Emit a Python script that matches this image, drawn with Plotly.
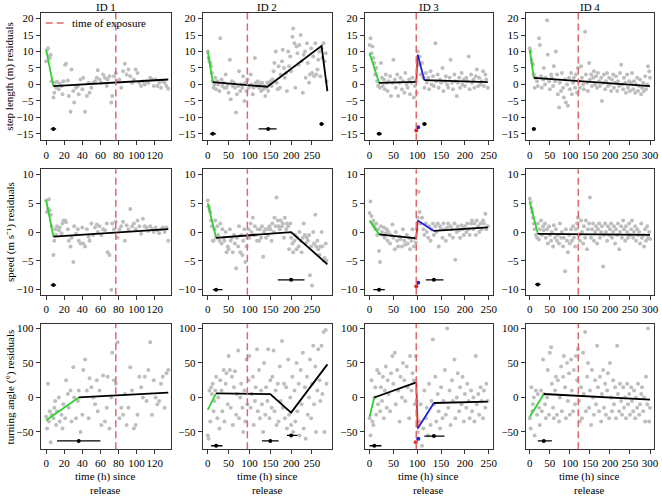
import plotly.graph_objects as go

# ---------------- data ----------------
ID_LABELS = ["ID 1", "ID 2", "ID 3", "ID 4"]
EXPOSURE = [77, 95, 98, 121]

TIME_ID1 = [0,1,2,3,4,5,6,8,9,10, 11,12,14,15,17,18,19,21,22,24, 25,27,28,30,31,33,35,36,38,40,
            41,43,45,47,48,50,52,54,56,57, 59,61,63,65,67,68,70,72,73,75, 77,79,81,83,85,87,89,91,93,95,
            97,99,101,103,105,107,109,111,113,115, 117,119,121,123,125,127,129,131,133,135]
STEP_ID1 = [7.0,10.5,11.0,8.5,8.0,9.0,1.0,-4.0,-2.5,0.5, -1.0,0.8,-1.5,0.3,-0.5,-3.0,1.0,6.0,6.3,1.2,
            -3.5,-8.3,4.5,-2.0,-5.5,-1.0,-0.5,-3.0,1.5,-1.5, 2.0,-8.3,-3.5,0.5,-2.5,-1.0,0.5,1.0,2.0,4.3,
            1.5,0.5,3.0,2.0,-0.5,1.5,2.5,-5.5,-3.5,2.5, 3.5,1.0,1.5,-1.0,4.0,6.3,3.0,4.5,2.5,0.5,
            1.5,4.5,3.5,0.5,-0.5,1.0,0.0,1.0,0.5,2.0, 1.5,-0.5,1.5,-0.5,0.5,-1.0,1.0,0.5,-0.5,-1.3]
SPEED_ID1 = [5.5,3.5,4.0,5.7,3.8,3.0,1.0,-4.0,-1.5,0.5, -0.5,1.0,0.3,0.8,-0.2,1.5,2.0,2.0,1.7,0.5,
             -1.5,-2.5,-1.0,-5.2,1.0,-0.3,0.5,-1.5,-2.0,0.8, -2.0,-2.5,0.5,-0.8,-1.5,1.5,-0.5,0.8,1.3,0.0,
             1.0,-0.5,0.5,0.3,1.5,-3.5,-4.0,-10.0,1.5,0.5, 1.8,-1.0,0.5,1.0,1.8,-1.5,1.2,0.5,4.0,1.0,
             1.5,0.5,2.0,1.0,-0.3,2.3,1.0,0.8,0.2,1.0, 0.5,0.0,0.8,0.3,-0.2,0.5,0.8,0.0,0.8,-1.5]
TURN_ID1 = [-28,-45,20,-35,-20,-65,-25,-30,-15,-5, -40,-20,0,-35,-25,-45,-10,-30,25,5,
            -15,10,-35,44,0,-30,-5,10,-50,-25, 40,55,10,-30,28,15,0,-10,25,-20,
            10,-40,32,-35,-15,30,-45,0,65,25, 20,80,-30,-15,-25,5,-40,-15,44,10,
            -45,-40,-25,30,15,0,30,-5,40,80, -25,25,0,-10,-5,20,30,-15,35,40]

TIME_ID2 = [0,2,4,6,8,10,12,14,16,18,20,
            23,25,28,30,33,35,38,40,43,45, 48,50,53,55,58,60,63,65,68,70,
            73,75,78,80,83,85,88,90,93,95, 98,100,103,105,108,110,113,115,118,120,
            123,125,128,130,133,135,138,140,143,145, 148,150,153,155,158,160,163,165,168,170,
            173,175,178,180,183,185,188,190,193,195, 198,200,203,205,208,210,213,215,218,220,
            223,225,228,230,233,235,238,240,243,245, 248,250,253,255,258,260,263,265,268,270,
            273,275,278,280,283,285]
STEP_ID2 = [10,8,7,6.5,5.5,3.5,1,-1,0,2,-1.5,
            1,0,-2,14,1.5,-0.5,0.5,-1,3,-1, 0,-2.5,7.5,-4.5,1,-0.5,0.5,-1,-8.5,-3,
            -0.5,4,-2,0,-1,2.5,-5,0.5,-2,1.5, -1,-0.5,3,0,-3,-1,8,0.5,-0.5,1,
            -1,0,-2,0.5,-1.5,-0.5,-3.5,-1,0.5,-2, 0,1,-0.5,1.5,4,6.5,10,0.5,-1.5,5.5,
            -1,3,7,10.5,5,2,3.5,-2,10,5.5, 8.5,4,14.5,17,12.5,-1,11.5,9.5,6,12,
            15,7,-2.5,9,10,2,12.5,6.5,0.5,3, 11,3.5,8.5,2.5,12.5,3,4.5,7.5,10,2.5,
            11,8,12.5,7,9.5,1]
SPEED_ID2 = [5.5,4.5,4,3.5,2,1,-1.5,-1.5,0.5,2,-1,
             1,-0.5,-1.5,1.5,-2,0.5,-1,-1.5,0,-3.5, -2.5,-3,0.5,-1.5,-1,-3.5,-0.5,-2,-6.3,-1,
             -2.5,1,-3.5,-0.5,-4,-1.5,0.5,-5.2,-2.5,-1, 0.5,-1,1.5,0,2.5,-0.5,1,-0.5,-1.5,0.5,
             -1.5,0.5,-1,1,-4.3,0,0.5,-1,0.5,-0.5, 1,0.5,-1.5,1.5,0,2.5,1,6,2,1,
             0.5,2,1,1.5,-1,2.5,0.5,1.5,1,-3, 1.5,-1,-2,-3.5,-1.5,-0.5,-3,-1,-2.5,0,
             -1.5,-3.5,-1,1.5,-0.5,-2,-1,-1.5,-0.5,-7.5, -2.5,-9.3,0,-2,3,-2.5,-1.5,-3,-4,-2.5,
             0,-2.5,-5,-4.5,-2,-5]
TURN_ID2 = [-55,-60,10,-35,15,5,20,-20,-5,10,30,
            -30,0,-45,25,10,-20,40,-35,20,35, -10,60,40,-15,30,-40,15,38,-25,5,
            68,-30,0,20,-15,-50,10,-35,55,-10, 25,60,-15,5,30,-40,-5,15,70,-20,
            40,-30,10,-10,-50,50,-25,15,-5,70, -30,25,-15,30,68,-20,10,-40,20,-35,
            45,-5,82,-15,20,-30,15,-45,55,-25, 0,-40,30,-50,10,-35,50,-20,20,-55,
            40,-10,65,-45,15,-60,30,-25,0,55, -30,20,75,-10,45,-50,10,70,25,-5,
            75,5,95,-50,98,20]

TIME_ID3 = [0,2,4,6,8,10,12,14,16,18,20,22,24,26,28,30,32,34,36,38,40,
            43,45,48,50,53,55,58,60,63,65,68,70,73,75,78,80,83,85,88,90,93,95,
            97,99,101,103,105,107,
            110,113,115,118,120,123,125,128,130,133,135,138,140,143,145,148,150,153,155,158,
            160,163,165,168,170,173,175,178,180,183,185,188,190,193,195,198,200,203,205,208,
            210,213,215,218,220,223,225,228,230,233,235,238,240,243,245,248]
STEP_ID3 = [12,14,9.5,11.5,8,6.5,3,5,1,-0.5,0.5,-1,6.5,2,-0.5,1.5,-1.5,3,0.5,-2,1,
            2.5,-3.5,0.5,7.5,1.5,-1,3,-3.5,0.5,2,-1.5,1,-2.5,3.5,0,-1,1.5,-3,0.5,2,-4,-0.5,
            1,-2.5,10,6,8.5,3,
            6.5,2,-1,3.5,0.5,2,-1.5,4,0,2.5,-0.5,12.5,1,3,-1,1.5,0.5,5,-2,1,
            2.5,0,-1,2,7.5,0.5,-1.5,3,1,-3.5,0.5,2,-1,3.5,0,1.5,-0.5,2,1,8.5,
            -1.5,3,0.5,1.5,-1,2.5,4.5,-0.5,2,0,1,4,-0.5,3,1.5,-1]
SPEED_ID3 = [3.3,5.3,2.8,1.5,2,1,0.5,1.5,-0.5,0.5,-3.3,-5.2,1,0,-0.5,0.8,-1,-0.2,0.5,-1.5,0,
             -2,-0.5,1.3,-1,-3,0,-1.5,-2.5,-0.8,-1.2,-2.5,0.5,-1.5,-2.2,-0.5,-2,-1,-3,-1.5,0.5,-2.5,-1,
             -1.8,0.5,2.5,7,3.5,1.5,
             2.5,0.5,-0.5,1.5,0,-1,1,-1.5,0.5,1.5,-0.5,1,0,1.5,-2.5,1,0.5,-1,1.5,0.5,
             -1.5,0.8,1.5,-0.5,1,0.5,-1,1.5,-4.8,0,1,0.3,-1,1.2,0.5,-0.5,1,0,1.5,0.5,
             -0.5,1.5,2,0.5,1.5,-0.5,2,1,0,1.5,0.5,2,1.5,3.2,0.5,1]
TURN_ID3 = [-30,-55,25,-35,-40,0,15,-25,40,-10,35,-20,15,-5,30,-30,10,45,-15,25,5,
            -20,35,60,20,65,-10,40,10,-35,30,0,50,25,-5,45,15,-30,60,10,35,25,-10,
            60,-5,-50,-60,-35,-10,
            -70,-45,10,-30,-15,-55,20,-40,-5,84,-10,30,-35,5,-20,-45,15,-30,-5,40,
            -25,100,-15,10,-40,25,-5,55,-30,0,35,-20,15,-10,30,-35,5,-15,20,-5,
            -30,10,-20,0,-35,60,-10,5,-25,15,-5,-30,10,-15,20,-5]

TIME_ID4 = [0,2,4,6,8,10,12,15,
            18,20,23,25,28,30,33,35,38,40,43,45,48,50,53,55,58,60,63,65,68,70,73,75,78,80,
            83,85,88,90,93,95,98,100,
            103,105,108,110,113,115,118,120,123,125,128,130,133,135,138,140,143,145,148,150,
            153,155,158,160,163,165,168,170,173,175,178,180,183,185,188,190,193,195,198,200,
            203,205,208,210,213,215,218,220,223,225,228,230,233,235,238,240,243,245,248,250,
            253,255,258,260,263,265,268,270,273,275,278,280,283,285,288,290,293,295,298,300]
STEP_ID4 = [11,10,7.5,6.5,6,3,-1,2,
            1,-0.5,14,12,2.5,-1,1.5,5,0,2,19.5,9,1,-1.5,3,2,-0.5,5.5,1,10,3,-3,-7,0.5,-2,3.5,
            -1,-4,1.5,-5.5,0,-6.5,2,-1.5,
            3.5,-3,0.5,2,-1,3,-2.5,5,1,-1,5.5,2,0,-1.5,16,3,0.5,-2,6.5,1.5,
            3,-0.5,2,4,0,2.5,-1,3.5,1,-0.5,2,-5,0.5,3,-1.5,1,3.5,-0.5,2,0,
            -2,1.5,3,-1,0.5,2.5,-2,1,-0.5,3.5,6,0,-1.5,2,0.5,-2.5,3,-1,1,-2,
            0.5,3.5,-1.5,1,-2.5,0,2,-2,-0.5,1.5,-3,-1,0.5,-2,2.5,-1.5,0,5.5,4,2]
SPEED_ID4 = [5.8,5.2,4.2,3.5,2.5,1.5,0.5,-0.5,
             -1,1.5,-1.3,0.5,2,-0.5,1,0.3,1.5,-1,0.5,-2,1,-0.5,-1.5,0,-2.5,1.2,-1,0.5,-1.5,-0.5,-2,1.5,-1,0,
             -2.5,-1,-6.8,0.5,-1.5,-3.5,-0.5,-2,
             0.5,-1.5,1,-1,-2.5,0.5,1.5,2.5,-0.5,-1.5,2,0,-2,1,-1,2,-3,0.5,1.5,6,
             -1,0.5,1.5,-1.5,0,1,-2,0.5,1.5,-1,0,1,-6,-0.5,1.5,0,-1.5,1,-0.5,0.5,
             1.5,-1,0,1,-2,0.5,-0.5,1.5,-3,0,1,-1,2,0.5,-1.5,1,0,-1,1.5,-0.5,
             0.5,2,-1,0,1,-1.5,0.5,-0.5,0,-2,1.5,-1,-0.5,-2.5,0.5,-1.5,1,-1,0,-1.2]
TURN_ID4 = [-30,-45,15,-20,-10,0,-55,10,
            -25,5,-15,-40,10,-20,55,5,-10,-30,0,40,-25,65,73,20,-15,-30,10,30,-25,25,-35,0,45,-20,
            30,60,15,-30,50,-5,35,-25,
            55,10,-20,40,-10,60,25,70,-5,-35,15,-30,65,5,95,-20,30,50,-15,10,
            -40,40,0,-25,25,-10,75,15,-20,30,-35,5,40,-15,20,-25,10,35,-30,50,
            0,-20,25,-10,15,-30,75,5,-20,20,-5,-25,15,-15,0,-30,20,-10,5,-25,
            15,-5,-20,10,-30,0,-15,20,-25,-10,5,15,-20,0,-35,30,-10,100,-35,-15]

# fitted segmented regressions: (segment kind, x breakpoints, y values)
FIT_STEP = [
    [("initial", [0, 8], [10.5, -0.5]), ("baseline", [8, 135], [-0.5, 1.5])],
    [("initial", [0, 12], [10, 0.7]), ("baseline", [12, 143, 273, 287], [0.7, -0.7, 11.7, -2])],
    [("initial", [0, 20], [9.5, 0.5]), ("baseline", [20, 98], [0.5, 0.8]), ("response", [98, 101], [0.8, 9]),
     ("recovery", [101, 115], [9, 1.3]), ("baseline", [115, 248], [1.3, 0.7])],
    [("initial", [0, 10], [10.5, 2]), ("baseline", [10, 300], [2, -0.5])],
]
FIT_SPEED = [
    [("initial", [0, 8], [5.5, -0.8]), ("baseline", [8, 135], [-0.8, 0.5])],
    [("initial", [0, 20], [5, -1]), ("baseline", [20, 200, 287], [-1, 0, -5.6])],
    [("initial", [0, 20], [2, -0.4]), ("baseline", [20, 98], [-0.4, -1.1]), ("response", [98, 101], [-1.1, 2]),
     ("recovery", [101, 135], [2, 0.2]), ("baseline", [135, 248], [0.2, 0.8])],
    [("initial", [0, 20], [5.2, -0.3]), ("baseline", [20, 300], [-0.3, -0.5])],
]
FIT_TURN = [
    [("initial", [0, 36], [-33, 0]), ("baseline", [36, 135], [0, 7])],
    [("initial", [0, 20], [-18, 6]), ("baseline", [20, 150, 200, 287], [6, 5, -22, 48])],
    [("initial", [0, 10], [-28, 0]), ("baseline", [10, 98], [0, 22]), ("response", [98, 101], [22, -45]),
     ("recovery", [101, 135], [-45, -8]), ("baseline", [135, 248], [-8, -6])],
    [("initial", [0, 35], [-28, 5]), ("baseline", [35, 300], [5, -3])],
]
# breakpoint estimates: (kind, estimate, plotted level, lower CI, upper CI)
BP_STEP = [
    [("baseline", 8, -13.5, 5, 11)],
    [("baseline", 12, -15, 5, 20), ("baseline", 145, -13.5, 122, 165), ("baseline", 273, -12, 268, 278)],
    [("baseline", 20, -15, 15, 26), ("response", 98, -14, 96.5, 99.5), ("recovery", 102, -13, 100.5, 103.5),
     ("baseline", 115, -12, 111, 120)],
    [("baseline", 10, -13.5, 5, 15)],
]
BP_SPEED = [
    [("baseline", 8, -9.2, 5, 11)],
    [("baseline", 20, -10, 12, 35), ("baseline", 200, -8.3, 168, 232)],
    [("baseline", 20, -10, 8, 32), ("response", 98, -9.4, 96, 100), ("recovery", 102, -8.8, 101, 103),
     ("baseline", 135, -8.3, 118, 155)],
    [("baseline", 20, -9.1, 13, 27)],
]
BP_TURN = [
    [("baseline", 36, -63, 12, 60)],
    [("baseline", 20, -70, 8, 35), ("baseline", 150, -63, 130, 170), ("baseline", 200, -55, 190, 215)],
    [("baseline", 10, -70, 0, 25), ("response", 97, -65, 95, 99), ("recovery", 102, -60, 100, 105),
     ("baseline", 135, -56, 115, 157)],
    [("baseline", 35, -63, 20, 55)],
]

X_TICKS = [[0, 20, 40, 60, 80, 100, 120], [0, 50, 100, 150, 200, 250],
           [0, 50, 100, 150, 200, 250], [0, 50, 100, 150, 200, 250, 300]]
Y_TICKS = [[-15, -10, -5, 0, 5, 10, 15, 20], [-10, -5, 0, 5, 10], [-50, 0, 50, 100]]
ROW_TITLES = ["step length (m) residuals", "speed (m s\u207b\u00b9) residuals",
              "turning angle (\u00b0) residuals"]

TIMES = [TIME_ID1, TIME_ID2, TIME_ID3, TIME_ID4]
VALUES = [[STEP_ID1, STEP_ID2, STEP_ID3, STEP_ID4],
          [SPEED_ID1, SPEED_ID2, SPEED_ID3, SPEED_ID4],
          [TURN_ID1, TURN_ID2, TURN_ID3, TURN_ID4]]
FITS = [FIT_STEP, FIT_SPEED, FIT_TURN]
BPS = [BP_STEP, BP_SPEED, BP_TURN]

# ---------------- styling / layout ----------------
W, H = 662, 496
COLS_PX = [(41, 172), (204, 334), (367, 496), (529, 658)]
ROWS_PX = [(12, 140), (169, 295), (324, 450)]
X_RANGE = [[-6, 138], [-12, 298], [-10, 259], [-10, 310]]
Y_RANGE = [[-17, 21.7], [-10.9, 10.9], [-75, 107]]
SEG_COLOR = {"initial": "#2ED12E", "baseline": "#000000", "response": "#E52222", "recovery": "#2222DD"}
BP_COLOR = {"baseline": "#000000", "response": "#E52222", "recovery": "#2222DD"}
EXPO_COLOR = "#E0676B"
FONT = "Liberation Serif"
FS = 11

fig = go.Figure()
layout = dict(width=W, height=H, margin=dict(l=0, r=0, t=0, b=0),
              plot_bgcolor="white", paper_bgcolor="white", showlegend=False,
              font=dict(family=FONT, size=FS, color="black"))
shapes, annotations = [], []

for r in range(3):
    for c in range(4):
        k = r * 4 + c + 1
        sfx = "" if k == 1 else str(k)
        xa, ya = f"x{sfx}", f"y{sfx}"
        xkey, ykey = f"xaxis{sfx}", f"yaxis{sfx}"
        x0p, x1p = COLS_PX[c]
        y0p, y1p = ROWS_PX[r]
        axis_common = dict(showline=True, linecolor="#333333", linewidth=1, mirror=True,
                           ticks="outside", ticklen=4, tickcolor="#333333", tickwidth=1,
                           showgrid=False, zeroline=False, tickangle=0,
                           tickfont=dict(family=FONT, size=FS, color="black"))
        layout[xkey] = dict(domain=[x0p / W, x1p / W], range=X_RANGE[c], anchor=ya,
                            tickvals=X_TICKS[c], **axis_common)
        layout[ykey] = dict(domain=[1 - y1p / H, 1 - y0p / H], range=Y_RANGE[r], anchor=xa,
                            tickvals=Y_TICKS[r], **axis_common)

        fig.add_trace(go.Scatter(x=TIMES[c], y=VALUES[r][c], mode="markers", xaxis=xa, yaxis=ya,
                                 marker=dict(color="#BEBEBE", size=4), hoverinfo="x+y"))
        shapes.append(dict(type="line", xref=xa, yref=f"{ya} domain", x0=EXPOSURE[c], x1=EXPOSURE[c],
                           y0=0, y1=1, line=dict(color=EXPO_COLOR, width=1.5, dash="7px,4px")))
        for kind, sx, sy in FITS[r][c]:
            fig.add_trace(go.Scatter(x=sx, y=sy, mode="lines", xaxis=xa, yaxis=ya,
                                     line=dict(color=SEG_COLOR[kind], width=1.8)))
        for kind, bx, by, lo, hi in BPS[r][c]:
            fig.add_trace(go.Scatter(
                x=[bx], y=[by], mode="markers", xaxis=xa, yaxis=ya,
                marker=dict(color=BP_COLOR[kind], size=4),
                error_x=dict(type="data", symmetric=False, array=[hi - bx], arrayminus=[bx - lo],
                             width=0, thickness=1.3, color=BP_COLOR[kind])))

        if r == 0:
            annotations.append(dict(text=ID_LABELS[c], x=(x0p + x1p) / 2 / W, y=1 - 6 / H,
                                    xref="paper", yref="paper", showarrow=False,
                                    xanchor="center", yanchor="middle", font=dict(size=FS)))
        if r == 2:
            annotations.append(dict(text="time (h) since<br>release", x=(x0p + x1p) / 2 / W,
                                    y=1 - 469 / H, xref="paper", yref="paper", showarrow=False,
                                    xanchor="center", yanchor="top", font=dict(size=FS)))
    annotations.append(dict(text=ROW_TITLES[r], x=10 / W, y=1 - (ROWS_PX[r][0] + ROWS_PX[r][1]) / 2 / H,
                            xref="paper", yref="paper", showarrow=False, textangle=-90,
                            xanchor="center", yanchor="middle", font=dict(size=FS)))

# legend (inside ID 1 panel)
shapes.append(dict(type="line", xref="paper", yref="paper", x0=46 / W, x1=67 / W,
                   y0=1 - 22 / H, y1=1 - 22 / H, line=dict(color=EXPO_COLOR, width=1.5, dash="7px,4px")))
annotations.append(dict(text="time of exposure", x=70 / W, y=1 - 22 / H, xref="paper", yref="paper",
                        showarrow=False, xanchor="left", yanchor="middle", font=dict(size=FS)))

layout["shapes"] = shapes
layout["annotations"] = annotations
fig.update_layout(**layout)
fig.write_html("out.html", config={"displayModeBar": False},
               post_script="document.body.style.margin='0';document.body.style.padding='0';")
